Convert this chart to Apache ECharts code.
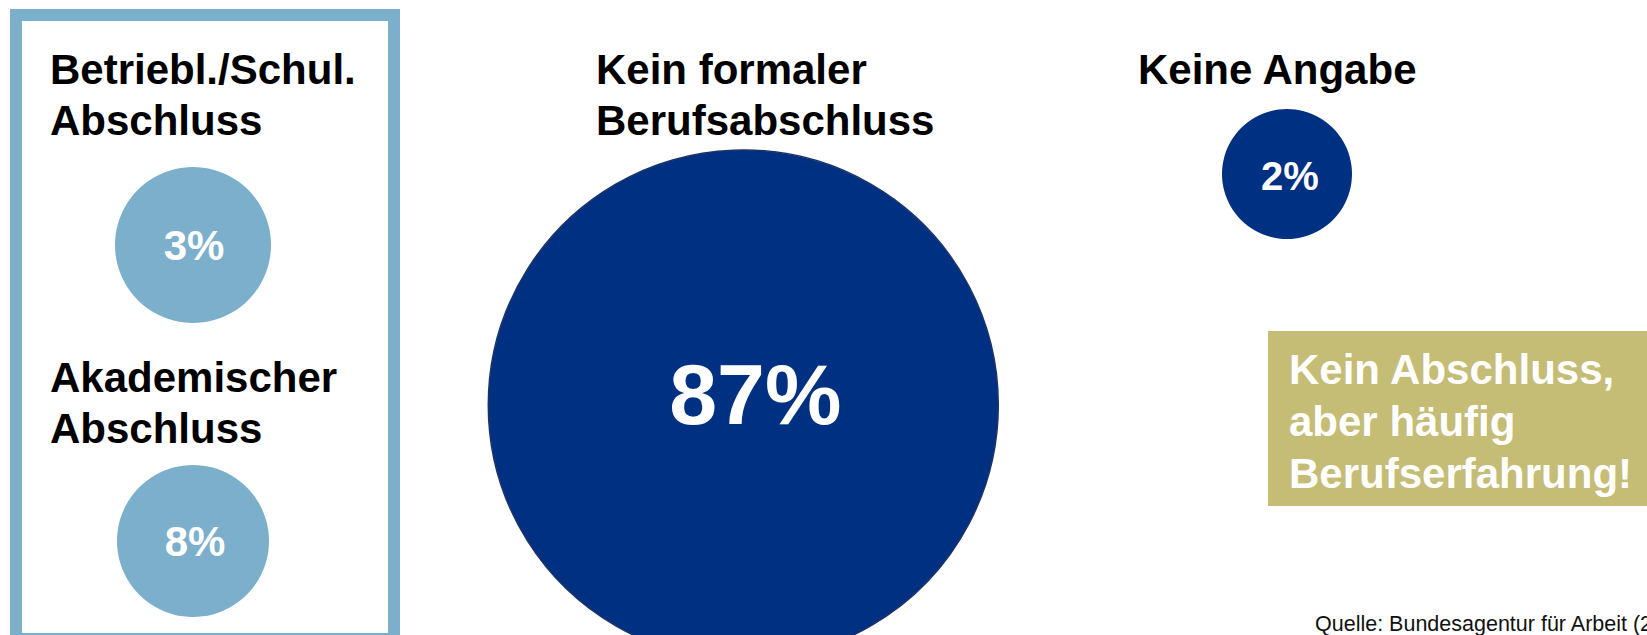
<!DOCTYPE html>
<html>
<head>
<meta charset="utf-8">
<script src="https://cdn.jsdelivr.net/npm/echarts@6/dist/echarts.min.js"></script>
<style>
    html, body { margin: 0; padding: 0; background: #fff; }
    #chart { width: 1647px; height: 635px; }
</style>
</head>
<body>
<div id="chart"></div>
<script>
    // Daten
    var categories = ['Betriebl./Schul.\nAbschluss', 'Akademischer\nAbschluss', 'Kein formaler\nBerufsabschluss', 'Keine Angabe'];
    var shares = [3, 8, 87, 2];
    var noteText = 'Kein Abschluss,\naber häufig\nBerufserfahrung!';
    var sourceText = 'Quelle: Bundesagentur für Arbeit (2016)';

    // Layout / Stil
    var FONT = '"Liberation Sans", Arial, Helvetica, sans-serif';
    var LIGHT = '#7BAFCB';
    var NAVY = '#003082';
    var KHAKI = '#C5BC76';
    var layout = [
        {col: 0, row: 245, size: 156, color: LIGHT, font: 42, offset: [1, 0], title: [50, 44]},
        {col: 0, row: 541, size: 152, color: LIGHT, font: 42, offset: [2, 0], title: [50, 352]},
        {col: 1.006, row: 405, size: 510, color: NAVY, font: 86, offset: [12, -11], title: [596, 44]},
        {col: 2, row: 174, size: 130, color: NAVY, font: 40, offset: [3, 2], title: [1138, 44]}
    ];

    var myChart = echarts.init(document.getElementById('chart'), null, {renderer: 'svg'});

    var option = {};
    option['animation'] = false;
    option['backgroundColor'] = '#fff';

    option['title'] = [];
    for (var i = 0; i < categories.length; i++) {
        option['title'].push({
            text: categories[i],
            left: layout[i].title[0],
            top: layout[i].title[1],
            padding: 0,
            textStyle: {fontFamily: FONT, fontSize: 42, fontWeight: 'bold', color: '#000', lineHeight: 51}
        });
    }

    option['grid'] = {left: 193, right: 360, top: 0, bottom: 0};
    option['xAxis'] = {type: 'value', min: 0, max: 2, show: false};
    option['yAxis'] = {type: 'value', min: 0, max: 635, inverse: true, show: false};

    var points = [];
    for (var i = 0; i < shares.length; i++) {
        var l = layout[i];
        points.push({
            value: [l.col, l.row, shares[i]],
            symbolSize: l.size,
            itemStyle: {
                color: l.color,
                opacity: 1,
                borderColor: l.size > 300 ? '#1c3368' : l.color,
                borderWidth: l.size > 300 ? 1.5 : 0
            },
            label: {fontSize: l.font, offset: l.offset}
        });
    }

    option['series'] = [{
        type: 'scatter',
        symbol: 'circle',
        clip: false,
        silent: true,
        data: points,
        itemStyle: {opacity: 1},
        label: {
            show: true,
            position: 'inside',
            color: '#fff',
            fontWeight: 'bold',
            fontFamily: FONT,
            formatter: function (p) { return p.value[2] + '%'; }
        },
        emphasis: {disabled: true}
    }];

    option['graphic'] = [
        {
            type: 'rect',
            shape: {x: 16, y: 15, width: 378, height: 624},
            style: {fill: 'none', stroke: LIGHT, lineWidth: 12},
            silent: true
        },
        {
            type: 'rect',
            shape: {x: 1268, y: 331, width: 400, height: 175},
            style: {fill: KHAKI},
            silent: true
        },
        {
            type: 'text',
            x: 1289, y: 343,
            style: {text: noteText, fill: '#fff', font: 'bold 42px ' + FONT, lineHeight: 52, verticalAlign: 'top'},
            silent: true
        },
        {
            type: 'text',
            x: 1315, y: 613,
            style: {text: sourceText, fill: '#111', font: '21.5px ' + FONT, verticalAlign: 'top'},
            silent: true
        }
    ];

    myChart.setOption(option);
</script>
</body>
</html>
